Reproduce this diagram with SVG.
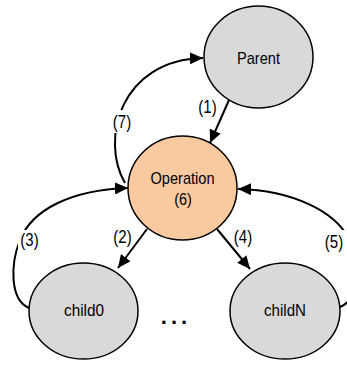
<svg xmlns="http://www.w3.org/2000/svg" width="347" height="365" viewBox="0 0 347 365">
<defs>
<marker id="arr" markerUnits="userSpaceOnUse" markerWidth="14" markerHeight="12" refX="13" refY="6" orient="auto">
<path d="M0,0 L13,6 L0,12 z" fill="#000"/>
</marker>
<style>
.node{stroke:#000;stroke-width:1.5}
.gray{fill:#d9d9d9}
.orange{fill:#f9c9a0}
text{font-family:"Liberation Sans",Arial,sans-serif;font-size:17px;fill:#000;text-anchor:middle}
.lbl{font-size:19px}
.edge{fill:none;stroke:#000;stroke-width:2}
.bg{fill:#fff}
</style>
</defs>
<rect width="347" height="365" fill="#fff"/>
<g id="connectors">
<path class="edge" d="M125,183 C100,140 120,60 203,58" marker-end="url(#arr)"/>
<path class="edge" d="M229,100 L210,143" marker-end="url(#arr)"/>
<path class="edge" d="M147,229 L118,268" marker-end="url(#arr)"/>
<path class="edge" d="M217,229 L250,269" marker-end="url(#arr)"/>
<path class="edge" d="M29,308 C10,300 10,265 20,240 C32,210 70,190 128,188" marker-end="url(#arr)"/>
<path class="edge" d="M340,307 C359,300 359,265 349,240 C337,212 292,190 238,189" marker-end="url(#arr)"/>
<rect class="bg" x="111" y="110" width="22" height="23"/>
<rect class="bg" x="18" y="230" width="23" height="23"/>
<rect class="bg" x="324" y="230" width="23" height="23"/>
<text class="lbl" x="122" y="127.5" textLength="18.3" lengthAdjust="spacingAndGlyphs">(7)</text>
<text class="lbl" x="207.5" y="112.5" textLength="18.3" lengthAdjust="spacingAndGlyphs">(1)</text>
<text class="lbl" x="122.5" y="243" textLength="18.3" lengthAdjust="spacingAndGlyphs">(2)</text>
<text class="lbl" x="243" y="243" textLength="18.3" lengthAdjust="spacingAndGlyphs">(4)</text>
<text class="lbl" x="29.5" y="246" textLength="18.3" lengthAdjust="spacingAndGlyphs">(3)</text>
<text class="lbl" x="334" y="247.5" textLength="18.3" lengthAdjust="spacingAndGlyphs">(5)</text>
</g>
<g id="parent">
<ellipse class="node gray" cx="258.5" cy="57" rx="54.5" ry="51"/>
<text x="258.5" y="64" textLength="43" lengthAdjust="spacingAndGlyphs">Parent</text>
</g>
<g id="operation">
<ellipse class="node orange" cx="182.5" cy="188" rx="54.5" ry="52"/>
<text x="182.5" y="184" textLength="64" lengthAdjust="spacingAndGlyphs">Operation</text>
<text x="183" y="205" textLength="17.7" lengthAdjust="spacingAndGlyphs">(6)</text>
</g>
<g id="child0">
<ellipse class="node gray" cx="83.5" cy="311" rx="54.5" ry="48"/>
<text x="84" y="316" textLength="40" lengthAdjust="spacingAndGlyphs">child0</text>
</g>
<g id="childN">
<ellipse class="node gray" cx="285" cy="311" rx="55" ry="48"/>
<text x="285" y="316" textLength="42" lengthAdjust="spacingAndGlyphs">childN</text>
</g>
<g id="ellipsis">
<text x="176" y="324" style="font-family:'Liberation Sans',Arial,sans-serif;font-size:22px;font-weight:bold;letter-spacing:4px">...</text>
</g>
</svg>
